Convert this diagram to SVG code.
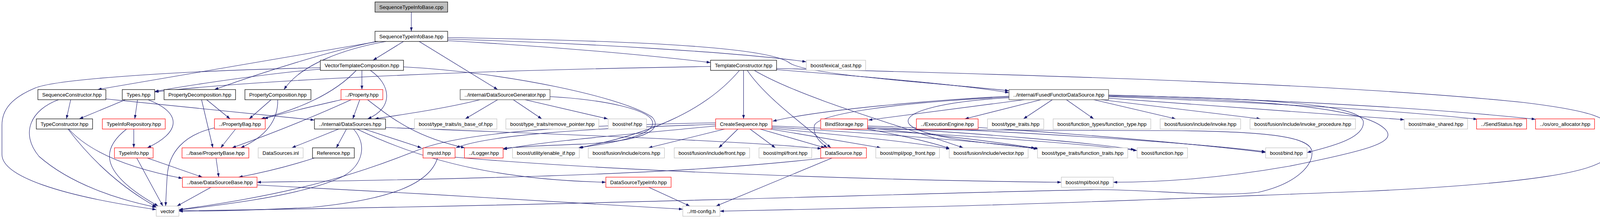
<svg xmlns="http://www.w3.org/2000/svg" width="4125" height="560" viewBox="0 0 4125 560">
<style>
rect.n{fill:#ffffff;stroke:#000000;stroke-width:1.2}
rect.r{fill:#ffffff;stroke:#ff0000;stroke-width:1.2}
rect.g{fill:#ffffff;stroke:#bfbfbf;stroke-width:1.2}
rect.k{fill:#bfbfbf;stroke:#000000;stroke-width:1.2}
rect.d{fill:#ffffff;stroke:#404040;stroke-width:1.2}
text{font-family:"Liberation Sans",Arial,Helvetica,sans-serif;font-size:13px;text-anchor:middle;fill:#000000}
#edges path{fill:none;stroke:#191970;stroke-width:1.1;marker-end:url(#a)}
</style>
<defs>
<marker id="a" viewBox="0 0 10 7" refX="10" refY="3.5" markerWidth="10" markerHeight="7" orient="auto" markerUnits="userSpaceOnUse"><path d="M0,0 L10,3.5 L0,7 z" fill="#191970"/></marker>
</defs>
<rect x="0" y="0" width="4125" height="560" fill="#ffffff"/>
<g id="edges">
<path d="M1053,31 L1053,80"/>
<path d="M1033,106 L955,154"/>
<path d="M1073,106 L1274,229"/>
<path d="M968,106 L250,229"/>
<path d="M963,106 C850,130 700,175 549,229"/>
<path d="M988,106 C880,125 770,165 727,229"/>
<path d="M1146,104 C1400,118 1650,140 1819,160"/>
<path d="M1146,100 C1500,110 1900,135 2064,158"/>
<path d="M1146,96 C1600,104 1960,118 2020,160 C2060,192 2400,212 2583,232"/>
<path d="M926.5,180 L926.5,229"/>
<path d="M948,180 C1000,215 1010,275 941,304"/>
<path d="M912,180 C860,235 780,275 668,304"/>
<path d="M820,177 C700,186 500,215 396,234"/>
<path d="M820,173 C500,180 150,200 90,225 C30,250 5,280 5,320 L5,395 C5,450 150,500 400,536"/>
<path d="M1033,171 C1300,185 1600,250 1670,300 C1700,335 1640,360 1500,368 C1400,372 1320,375 1288,380"/>
<path d="M921,255 L903,304"/>
<path d="M874,255 C800,272 720,290 676,304"/>
<path d="M899,255 C800,300 700,340 594,378"/>
<path d="M941,255 C1000,300 1060,350 1190,378"/>
<path d="M694,255 L638,304"/>
<path d="M711,255 C712,300 690,345 616,378"/>
<path d="M529,255 L589,304"/>
<path d="M516,255 L545,378"/>
<path d="M181,255 L170,304"/>
<path d="M150,255 C80,280 50,340 100,400 C180,470 300,510 400,530"/>
<path d="M271,253 C500,275 700,295 805,307"/>
<path d="M321,255 L203,304"/>
<path d="M352,255 L345,304"/>
<path d="M379,255 C470,290 460,340 377,378"/>
<path d="M1274,255 L1191,304"/>
<path d="M1314,255 L1387,304"/>
<path d="M1344,255 L1556,304"/>
<path d="M1229,255 C1150,275 1050,290 959,304"/>
<path d="M1408,247 C1550,255 1660,280 1670,310 C1680,340 1600,362 1480,378"/>
<path d="M174,330 C250,430 330,490 400,529"/>
<path d="M176,330 C230,390 330,430 467,456"/>
<path d="M342.5,330 L342.5,378"/>
<path d="M324,330 C260,380 250,440 405,527"/>
<path d="M603,330 L565,378"/>
<path d="M549,327 C470,345 432,390 428,450 C426,480 425,505 424,527"/>
<path d="M350,404 L417,527"/>
<path d="M377,404 L518,453"/>
<path d="M553,404 L560,453"/>
<path d="M805,404 C740,425 680,440 611,453"/>
<path d="M867,330 L747,378"/>
<path d="M887,330 L861,378"/>
<path d="M932,330 L1079,378"/>
<path d="M905,330 C940,370 930,420 880,450 C780,500 560,525 458,537"/>
<path d="M914,330 C1100,420 1300,460 1551,466"/>
<path d="M987,326 C1400,342 1900,360 2103,380"/>
<path d="M540,479 L453,527"/>
<path d="M658,473 C1000,490 1500,520 1748,535"/>
<path d="M2110,404 C1800,440 1400,455 658,466"/>
<path d="M2130,404 L1833,527"/>
<path d="M1120,404 C1100,470 1000,510 800,530 C650,538 520,540 458,540"/>
<path d="M1165,402 C1600,440 2300,462 2717,466"/>
<path d="M1661,479 L1766,527"/>
<path d="M1903.5,180 L1903.5,304"/>
<path d="M1819,170 C1300,178 700,200 396,235"/>
<path d="M1893,180 C1800,290 1650,345 1483,378"/>
<path d="M1913,180 C1960,250 2060,320 2127,378"/>
<path d="M1931,180 C2050,250 2300,320 2466,378"/>
<path d="M1988,178 C2200,195 2450,215 2583,237"/>
<path d="M1988,175 C2500,188 3400,210 3900,262 C4090,285 4119,305 4119,330 L4119,390 C4119,440 3900,470 3500,489 C3200,500 2800,518 2400,528 C2100,535 1950,538 1843,540"/>
<path d="M1889,330 L1840,378"/>
<path d="M1920,330 L1985,378"/>
<path d="M1946,330 L2112,378"/>
<path d="M1972,330 L2255,378"/>
<path d="M1976,328 C2200,350 2350,365 2432,381"/>
<path d="M1976,325 C2300,345 2550,365 2656,381"/>
<path d="M1976,322 C2400,340 2750,365 2911,385"/>
<path d="M1855,330 L1660,378"/>
<path d="M1832,322 C1600,345 1400,360 1288,382"/>
<path d="M1832,318 C1500,328 1250,345 1167,378"/>
<path d="M1832,314 C1500,320 1200,335 1080,380 C950,430 800,490 458,536"/>
<path d="M2583,246 C2400,255 2100,280 1978,310"/>
<path d="M2622,255 L2223,307"/>
<path d="M2665,255 L2470,304"/>
<path d="M2694,255 L2620,304"/>
<path d="M2730,255 L2800,304"/>
<path d="M2800,255 L3010,304"/>
<path d="M2819,255 L3227,304"/>
<path d="M2838,251 L3595,306"/>
<path d="M2838,247 C3300,265 3600,285 3782,305"/>
<path d="M2838,243 C3300,255 3700,280 3931,305"/>
<path d="M2838,244 C3300,252 3480,272 3490,310 C3495,350 3420,372 3346,390"/>
<path d="M2838,246 C3300,256 3510,282 3550,335 C3570,365 3500,385 3300,425 C3100,460 2950,466 2850,466"/>
<path d="M2583,248 C2300,262 2100,290 2085,320 C2080,345 2100,365 2118,378"/>
<path d="M2583,250 C2400,260 2300,290 2330,320 C2370,355 2550,368 2660,380"/>
<path d="M2221,330 C2300,345 2380,362 2432,380"/>
<path d="M2221,327 C2400,345 2550,362 2650,379"/>
<path d="M2221,325 C2500,340 2800,365 2905,383"/>
<path d="M2221,322 C2700,340 3100,370 3240,388"/>
<path d="M2221,329 C2350,333 2700,333 3000,334 C3250,336 3350,350 3358,385 C3365,420 3320,470 3220,492 C3100,505 2950,484 2800,485 C2300,495 1500,525 458,539"/>
<path d="M2504,326 C2800,345 3100,372 3240,390"/>
</g>
<g id="n_cpp"><rect class="k" x="960" y="5" width="186" height="26"/><text x="1053" y="22.5" textLength="164" lengthAdjust="spacingAndGlyphs">SequenceTypeInfoBase.cpp</text></g>
<g id="n_stib"><rect class="n" x="960" y="80" width="186" height="26"/><text x="1053" y="97.5" textLength="164" lengthAdjust="spacingAndGlyphs">SequenceTypeInfoBase.hpp</text></g>
<g id="n_vtc"><rect class="n" x="820" y="154" width="213" height="26"/><text x="926.5" y="171.5" textLength="191" lengthAdjust="spacingAndGlyphs">VectorTemplateComposition.hpp</text></g>
<g id="n_tc"><rect class="n" x="1819" y="154" width="169" height="26"/><text x="1903.5" y="171.5" textLength="147" lengthAdjust="spacingAndGlyphs">TemplateConstructor.hpp</text></g>
<g id="n_lex"><rect class="g" x="2064" y="154" width="152" height="26"/><text x="2140" y="171.5" textLength="130" lengthAdjust="spacingAndGlyphs">boost/lexical_cast.hpp</text></g>
<g id="n_sc"><rect class="n" x="97" y="229" width="174" height="26"/><text x="184" y="246.5" textLength="152" lengthAdjust="spacingAndGlyphs">SequenceConstructor.hpp</text></g>
<g id="n_types"><rect class="n" x="313" y="229" width="83" height="26"/><text x="354.5" y="246.5" textLength="61" lengthAdjust="spacingAndGlyphs">Types.hpp</text></g>
<g id="n_pd"><rect class="n" x="420" y="229" width="183" height="26"/><text x="511.5" y="246.5" textLength="161" lengthAdjust="spacingAndGlyphs">PropertyDecomposition.hpp</text></g>
<g id="n_pc"><rect class="n" x="627" y="229" width="169" height="26"/><text x="711.5" y="246.5" textLength="147" lengthAdjust="spacingAndGlyphs">PropertyComposition.hpp</text></g>
<g id="n_prop"><rect class="r" x="873" y="229" width="107" height="26"/><text x="926.5" y="246.5" textLength="85" lengthAdjust="spacingAndGlyphs">../Property.hpp</text></g>
<g id="n_dsg"><rect class="d" x="1178" y="229" width="230" height="26"/><text x="1293" y="246.5" textLength="208" lengthAdjust="spacingAndGlyphs">../internal/DataSourceGenerator.hpp</text></g>
<g id="n_ffds"><rect class="d" x="2583" y="229" width="255" height="26"/><text x="2710.5" y="246.5" textLength="233" lengthAdjust="spacingAndGlyphs">../internal/FusedFunctorDataSource.hpp</text></g>
<g id="n_tcon"><rect class="n" x="93" y="304" width="144" height="26"/><text x="165" y="321.5" textLength="122" lengthAdjust="spacingAndGlyphs">TypeConstructor.hpp</text></g>
<g id="n_tir"><rect class="r" x="262" y="304" width="161" height="26"/><text x="342.5" y="321.5" textLength="139" lengthAdjust="spacingAndGlyphs">TypeInfoRepository.hpp</text></g>
<g id="n_pbag"><rect class="r" x="549" y="304" width="130" height="26"/><text x="614" y="321.5" textLength="108" lengthAdjust="spacingAndGlyphs">../PropertyBag.hpp</text></g>
<g id="n_dss"><rect class="n" x="805" y="304" width="182" height="26"/><text x="896" y="321.5" textLength="160" lengthAdjust="spacingAndGlyphs">../internal/DataSources.hpp</text></g>
<g id="n_isbase"><rect class="g" x="1061" y="304" width="211" height="26"/><text x="1166.5" y="321.5" textLength="189" lengthAdjust="spacingAndGlyphs">boost/type_traits/is_base_of.hpp</text></g>
<g id="n_remptr"><rect class="g" x="1295" y="304" width="238" height="26"/><text x="1414" y="321.5" textLength="216" lengthAdjust="spacingAndGlyphs">boost/type_traits/remove_pointer.hpp</text></g>
<g id="n_ref"><rect class="g" x="1557" y="304" width="98" height="26"/><text x="1606" y="321.5" textLength="76" lengthAdjust="spacingAndGlyphs">boost/ref.hpp</text></g>
<g id="n_cs"><rect class="r" x="1832" y="304" width="144" height="26"/><text x="1904" y="321.5" textLength="122" lengthAdjust="spacingAndGlyphs">CreateSequence.hpp</text></g>
<g id="n_bs"><rect class="r" x="2101" y="304" width="120" height="26"/><text x="2161" y="321.5" textLength="98" lengthAdjust="spacingAndGlyphs">BindStorage.hpp</text></g>
<g id="n_ee"><rect class="r" x="2346" y="304" width="158" height="26"/><text x="2425" y="321.5" textLength="136" lengthAdjust="spacingAndGlyphs">../ExecutionEngine.hpp</text></g>
<g id="n_tt"><rect class="g" x="2528" y="304" width="144" height="26"/><text x="2600" y="321.5" textLength="122" lengthAdjust="spacingAndGlyphs">boost/type_traits.hpp</text></g>
<g id="n_ftft"><rect class="g" x="2696" y="304" width="250" height="26"/><text x="2821" y="321.5" textLength="228" lengthAdjust="spacingAndGlyphs">boost/function_types/function_type.hpp</text></g>
<g id="n_inv"><rect class="g" x="2970" y="304" width="206" height="26"/><text x="3073" y="321.5" textLength="184" lengthAdjust="spacingAndGlyphs">boost/fusion/include/invoke.hpp</text></g>
<g id="n_invp"><rect class="g" x="3200" y="304" width="270" height="26"/><text x="3335" y="321.5" textLength="248" lengthAdjust="spacingAndGlyphs">boost/fusion/include/invoke_procedure.hpp</text></g>
<g id="n_mks"><rect class="g" x="3595" y="304" width="162" height="26"/><text x="3676" y="321.5" textLength="140" lengthAdjust="spacingAndGlyphs">boost/make_shared.hpp</text></g>
<g id="n_ss"><rect class="r" x="3780" y="304" width="128" height="26"/><text x="3844" y="321.5" textLength="106" lengthAdjust="spacingAndGlyphs">../SendStatus.hpp</text></g>
<g id="n_oro"><rect class="r" x="3931" y="304" width="151" height="26"/><text x="4006.5" y="321.5" textLength="129" lengthAdjust="spacingAndGlyphs">../os/oro_allocator.hpp</text></g>
<g id="n_ti"><rect class="r" x="293" y="378" width="99" height="26"/><text x="342.5" y="395.5" textLength="77" lengthAdjust="spacingAndGlyphs">TypeInfo.hpp</text></g>
<g id="n_pb"><rect class="r" x="466" y="378" width="171" height="26"/><text x="551.5" y="395.5" textLength="149" lengthAdjust="spacingAndGlyphs">../base/PropertyBase.hpp</text></g>
<g id="n_dsinl"><rect class="g" x="661" y="378" width="115" height="26"/><text x="718.5" y="395.5" textLength="93" lengthAdjust="spacingAndGlyphs">DataSources.inl</text></g>
<g id="n_refh"><rect class="n" x="800" y="378" width="107" height="26"/><text x="853.5" y="395.5" textLength="85" lengthAdjust="spacingAndGlyphs">Reference.hpp</text></g>
<g id="n_mystd"><rect class="r" x="1083" y="378" width="82" height="26"/><text x="1124" y="395.5" textLength="60" lengthAdjust="spacingAndGlyphs">mystd.hpp</text></g>
<g id="n_log"><rect class="r" x="1189" y="378" width="99" height="26"/><text x="1238.5" y="395.5" textLength="77" lengthAdjust="spacingAndGlyphs">../Logger.hpp</text></g>
<g id="n_eif"><rect class="g" x="1312" y="378" width="171" height="26"/><text x="1397.5" y="395.5" textLength="149" lengthAdjust="spacingAndGlyphs">boost/utility/enable_if.hpp</text></g>
<g id="n_cons"><rect class="g" x="1506" y="378" width="195" height="26"/><text x="1603.5" y="395.5" textLength="173" lengthAdjust="spacingAndGlyphs">boost/fusion/include/cons.hpp</text></g>
<g id="n_front"><rect class="g" x="1726" y="378" width="193" height="26"/><text x="1822.5" y="395.5" textLength="171" lengthAdjust="spacingAndGlyphs">boost/fusion/include/front.hpp</text></g>
<g id="n_mfront"><rect class="g" x="1943" y="378" width="135" height="26"/><text x="2010.5" y="395.5" textLength="113" lengthAdjust="spacingAndGlyphs">boost/mpl/front.hpp</text></g>
<g id="n_ds"><rect class="r" x="2101" y="378" width="117" height="26"/><text x="2159.5" y="395.5" textLength="95" lengthAdjust="spacingAndGlyphs">DataSource.hpp</text></g>
<g id="n_popf"><rect class="g" x="2242" y="378" width="163" height="26"/><text x="2323.5" y="395.5" textLength="141" lengthAdjust="spacingAndGlyphs">boost/mpl/pop_front.hpp</text></g>
<g id="n_fvec"><rect class="g" x="2430" y="378" width="202" height="26"/><text x="2531" y="395.5" textLength="180" lengthAdjust="spacingAndGlyphs">boost/fusion/include/vector.hpp</text></g>
<g id="n_ftr"><rect class="g" x="2656" y="378" width="231" height="26"/><text x="2771.5" y="395.5" textLength="209" lengthAdjust="spacingAndGlyphs">boost/type_traits/function_traits.hpp</text></g>
<g id="n_func"><rect class="g" x="2911" y="378" width="129" height="26"/><text x="2975.5" y="395.5" textLength="107" lengthAdjust="spacingAndGlyphs">boost/function.hpp</text></g>
<g id="n_bind"><rect class="g" x="3240" y="378" width="106" height="26"/><text x="3293" y="395.5" textLength="84" lengthAdjust="spacingAndGlyphs">boost/bind.hpp</text></g>
<g id="n_dsb"><rect class="r" x="467" y="453" width="191" height="26"/><text x="562.5" y="470.5" textLength="169" lengthAdjust="spacingAndGlyphs">../base/DataSourceBase.hpp</text></g>
<g id="n_dsti"><rect class="r" x="1551" y="453" width="167" height="26"/><text x="1634.5" y="470.5" textLength="145" lengthAdjust="spacingAndGlyphs">DataSourceTypeInfo.hpp</text></g>
<g id="n_mbool"><rect class="g" x="2717" y="453" width="133" height="26"/><text x="2783.5" y="470.5" textLength="111" lengthAdjust="spacingAndGlyphs">boost/mpl/bool.hpp</text></g>
<g id="n_vec"><rect class="g" x="400" y="527" width="58" height="26"/><text x="429" y="544.5" textLength="36" lengthAdjust="spacingAndGlyphs">vector</text></g>
<g id="n_rtt"><rect class="g" x="1748" y="527" width="95" height="26"/><text x="1795.5" y="544.5" textLength="73" lengthAdjust="spacingAndGlyphs">../rtt-config.h</text></g>
</svg>
